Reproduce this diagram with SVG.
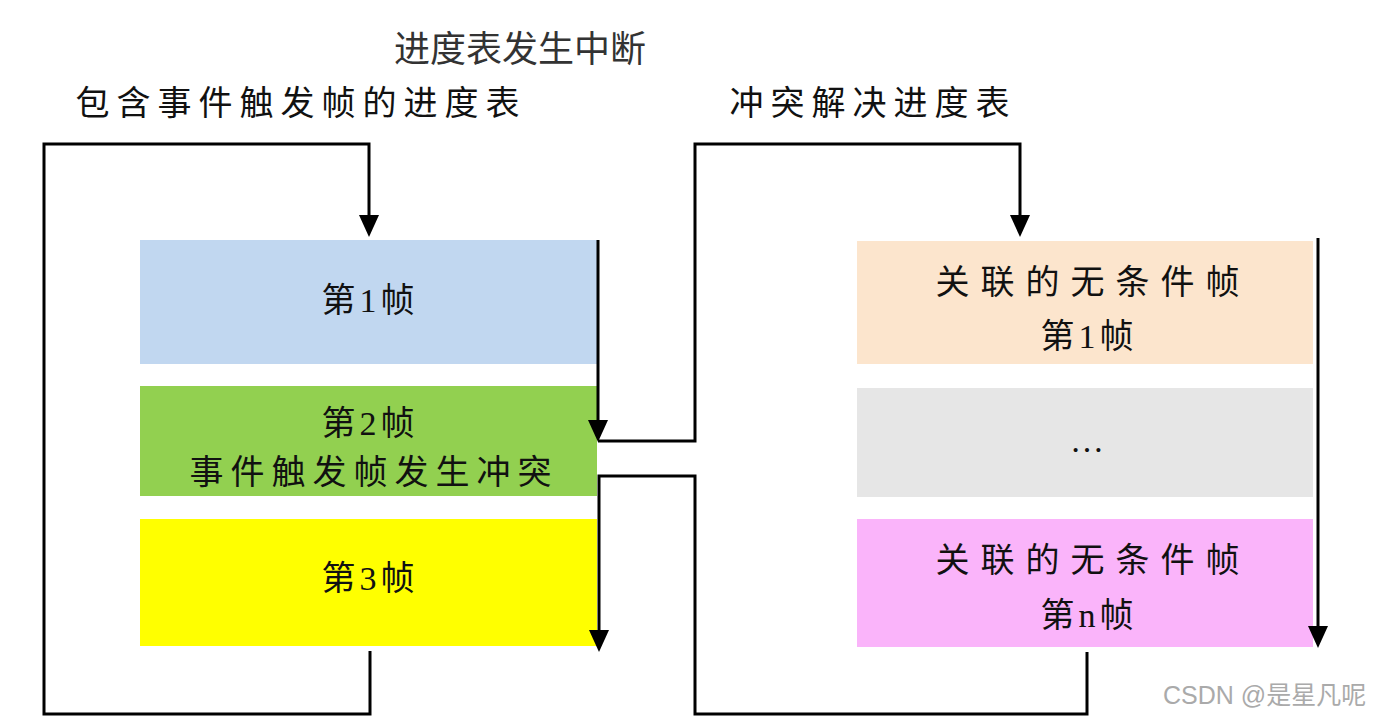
<svg xmlns="http://www.w3.org/2000/svg" width="1374" height="719" viewBox="0 0 1374 719">
<style>
.t{font-family:"Liberation Serif","Noto Sans CJK SC",serif;font-size:34px;fill:#111;text-anchor:middle;dominant-baseline:central}
.f{letter-spacing:4px}
.w{letter-spacing:7px}
.x{letter-spacing:11px}
.ln{fill:none;stroke:#000;stroke-width:3}
</style>
<defs>
<marker id="ad" viewBox="0 0 20 22" refX="10" refY="14" markerWidth="20" markerHeight="22" markerUnits="userSpaceOnUse" orient="0">
<path d="M0,0 L20,0 L10,22 Z" fill="#000"/>
</marker>
</defs>
<rect width="1374" height="719" fill="#fff"/>
<text class="t" x="520" y="50" style="font-size:36px;fill:#333">进度表发生中断</text>
<text class="t w" x="301" y="103">包含事件触发帧的进度表</text>
<text class="t w" x="873" y="103">冲突解决进度表</text>
<g id="n1"><rect x="140" y="240" width="457" height="124" fill="#C1D7F0"/><text class="t f" x="370" y="300">第1帧</text></g>
<g id="n2"><rect x="140" y="386" width="457" height="110" fill="#92D050"/><text class="t f" x="370" y="423">第2帧</text><text class="t w" x="374" y="472">事件触发帧发生冲突</text></g>
<g id="n3"><rect x="140" y="519" width="457" height="127" fill="#FFFF00"/><text class="t f" x="370" y="578">第3帧</text></g>
<g id="n4"><rect x="857" y="241" width="456" height="123" fill="#FCE5CD"/><text class="t x" x="1093" y="282">关联的无条件帧</text><text class="t f" x="1089" y="336">第1帧</text></g>
<g id="n5"><rect x="857" y="388" width="456" height="109" fill="#E6E6E6"/><text class="t" x="1087" y="440">…</text></g>
<g id="n6"><rect x="857" y="519" width="456" height="128" fill="#FAB4FA"/><text class="t x" x="1093" y="560">关联的无条件帧</text><text class="t f" x="1089" y="615">第n帧</text></g>
<g id="connectors">
<path class="ln" d="M370,651 V714 H44 V144 H369 V229" marker-end="url(#ad)"/>
<path class="ln" d="M598,240 V434" marker-end="url(#ad)"/>
<path class="ln" d="M598,441 H695 V144 H1020 V229" marker-end="url(#ad)"/>
<path class="ln" d="M1087,652 V714 H695 V476 H599 V644" marker-end="url(#ad)"/>
<path class="ln" d="M1318,238 V640" marker-end="url(#ad)"/>
</g>
<text x="1163" y="704" style="font-family:'Liberation Sans','Noto Sans CJK SC',sans-serif;font-size:25px;fill:#aaa">CSDN @是星凡呢</text>
</svg>
